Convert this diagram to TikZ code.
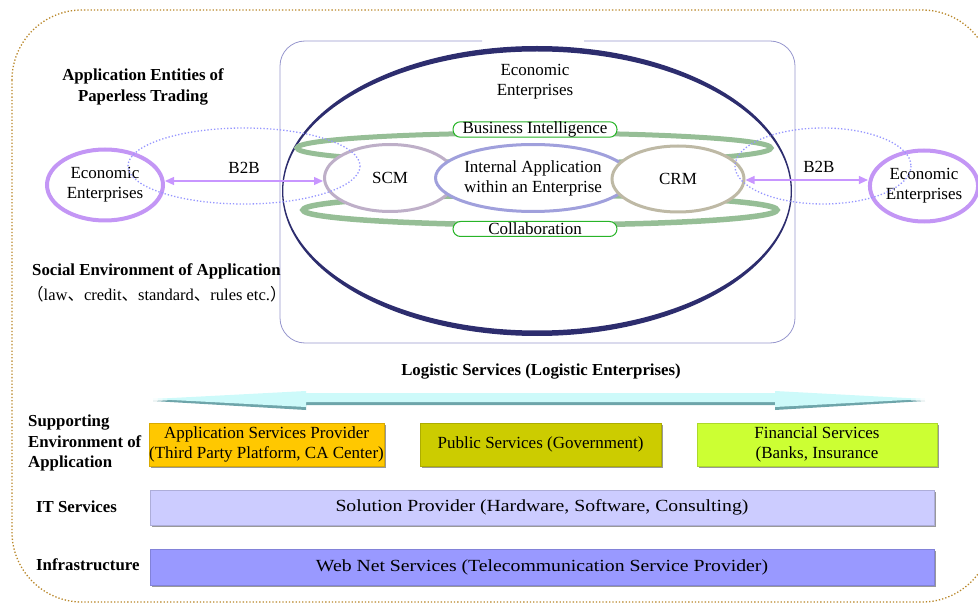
\documentclass[tikz,border=0pt]{standalone}
\usepackage{fontspec}
\setmainfont{Liberation Serif}
\newfontfamily\timesfont{Liberation Serif}
\newfontfamily\widefont[FakeStretch=1.16]{Liberation Serif}
\newfontfamily\cjk{Noto Sans CJK SC}
\usetikzlibrary{shapes.geometric,arrows.meta,shadows}

\definecolor{framegold}{RGB}{184,134,40}
\definecolor{framelav}{RGB}{150,150,205}
\definecolor{navyring}{RGB}{45,45,110}
\definecolor{sage}{RGB}{150,190,150}
\definecolor{pillgreen}{RGB}{40,180,40}
\definecolor{eelav}{RGB}{195,150,245}
\definecolor{scmc}{RGB}{190,175,200}
\definecolor{iac}{RGB}{160,160,220}
\definecolor{crmc}{RGB}{190,185,165}
\definecolor{dotblue}{RGB}{150,150,255}
\definecolor{b2bc}{RGB}{200,150,255}
\definecolor{cyanl}{RGB}{205,250,250}
\definecolor{cyand}{RGB}{110,165,170}
\definecolor{aspc}{RGB}{255,200,0}
\definecolor{pubc}{RGB}{204,204,0}
\definecolor{finc}{RGB}{204,255,51}
\definecolor{solc}{RGB}{204,204,255}
\definecolor{webc}{RGB}{153,153,255}

\begin{document}
\begin{tikzpicture}[x=1pt,y=-1pt,
  lbl/.style={font=\timesfont\fontsize{17}{20}\selectfont, text=black, align=center, inner sep=0pt},
  hd/.style={font=\timesfont\bfseries\fontsize{16.8}{20.5}\selectfont, inner sep=0pt},
  app/.style={ellipse, fill=white, line width=3pt, inner sep=0pt, align=center,
    font=\timesfont\fontsize{17}{20}\selectfont},
  pill/.style={draw=pillgreen, line width=1pt, fill=white, rounded corners=7.5pt,
    minimum width=164pt, minimum height=15pt, inner sep=0pt,
    font=\timesfont\fontsize{17}{18}\selectfont},
  svc/.style={rectangle, inner sep=0pt, align=center, fill=#1, draw=#1!85!black,
    line width=0.6pt, drop shadow={shadow xshift=2pt, shadow yshift=-2pt,
    fill=black!40, opacity=1}, font=\timesfont\fontsize{17}{20}\selectfont},
  layer/.style={svc=#1, font=\widefont\fontsize{17}{20}\selectfont},
  b2b/.style={b2bc, line width=1.2pt, {Triangle[length=9pt,width=8pt]}-{Triangle[length=9pt,width=8pt]}},
  dotring/.style={dotblue, dotted, line width=1.3pt}
]
\useasboundingbox (0,0) rectangle (978,604);

% outer dotted frame
\draw[framegold, dotted, line width=1.3pt, rounded corners=70pt] (12,10) rectangle (992,602);

% enterprise frame, open at the top
\draw[framelav, line width=0.8pt, rounded corners=25pt]
  (482,41) -- (280,41) -- (280,343) -- (795,343) -- (795,41) -- (584,41);

% economic enterprise ring
\fill[navyring, even odd rule] (537,191) ellipse [x radius=255, y radius=145]
  (537,191) ellipse [x radius=253.7, y radius=139.5];

% green bands
\draw[sage, line width=5pt] (534,148) ellipse [x radius=237, y radius=15];
\draw[sage, line width=5.5pt] (540,210) ellipse [x radius=237, y radius=15];

% application nodes
\node[app, draw=scmc, minimum width=131pt, minimum height=67pt] (scm) at (390,178) {SCM};
\node[app, draw=iac, minimum width=134pt, minimum height=67pt] (ia) at (533,178)
  {Internal Application\\within an Enterprise};
\node[app, draw=crmc, minimum width=132pt, minimum height=66pt] (crm) at (678,179) {CRM};

\node[pill] (bi) at (535,129.5) {Business Intelligence};
\node[pill] (collab) at (535,229) {Collaboration};

\node[lbl] (econ) at (535,82) {Economic\\Enterprises};

% partner enterprises
\node[app, draw=eelav, line width=4pt, minimum width=116pt, minimum height=71pt] (eeL) at (105,185)
  {Economic\\Enterprises};
\node[app, draw=eelav, line width=4pt, minimum width=104pt, minimum height=71pt] (eeR) at (924,186)
  {Economic\\Enterprises};

% B2B scopes
\draw[dotring] (244,166) ellipse [x radius=116, y radius=38];
\draw[dotring] (823,166) ellipse [x radius=88, y radius=38];

\coordinate (b2bL) at (0,181);
\coordinate (b2bR) at (0,180);
\draw[b2b] (eeL.east |- b2bL) -- node[lbl, above=7pt] {B2B} (scm.west |- b2bL);
\draw[b2b] (crm.east |- b2bR) -- node[lbl, pos=0.6, above=7pt] {B2B} (eeR.west |- b2bR);

% side headings
\node[hd, align=center] (entities) at (143,87) {Application Entities of\\Paperless Trading};
\node[hd, anchor=west] (social) at (32,271) {Social Environment of Application};
\node[inner sep=0pt, anchor=west, font=\timesfont\fontsize{16.5}{18}\selectfont] (socialsub) at (27,294)
  {{\cjk （}law{\cjk 、}credit{\cjk 、}standard{\cjk 、}rules etc.{\cjk ）}};

% logistics
\node[hd] (logi) at (541,372) {Logistic Services (Logistic Enterprises)};
\fill[cyand] (153,401) -- (306,393) -- (306,396) -- (775,396) -- (775,393) -- (925,401)
  -- (775,410) -- (775,405) -- (306,405) -- (306,410) -- cycle;
\fill[cyanl] (153,399) -- (306,391) -- (306,393) -- (775,393) -- (775,391) -- (925,399)
  -- (775,407) -- (775,402) -- (306,402) -- (306,407) -- cycle;

% service layers
\node[svc=aspc, minimum width=233pt, minimum height=43pt] (asp) at (266.5,444.5)
  {Application Services Provider\\(Third Party Platform, CA Center)};
\node[svc=pubc, minimum width=241pt, minimum height=43pt] (pub) at (540.5,444.5)
  {Public Services (Government)};
\node[svc=finc, minimum width=240pt, minimum height=43pt] (fin) at (817,444.5)
  {Financial Services\\(Banks, Insurance};
\node[layer=solc, minimum width=784pt, minimum height=35pt] (sol) at (542,507.5)
  {Solution Provider (Hardware, Software, Consulting)};
\node[layer=webc, minimum width=784pt, minimum height=36pt] (web) at (542,567)
  {Web Net Services (Telecommunication Service Provider)};

\node[hd, anchor=west, align=left] (supp) at (28,443) {Supporting\\Environment of\\Application};
\node[hd, anchor=west] (its) at (36,507) {IT Services};
\node[hd, anchor=west] (infra) at (36,565) {Infrastructure};
\end{tikzpicture}
\end{document}
